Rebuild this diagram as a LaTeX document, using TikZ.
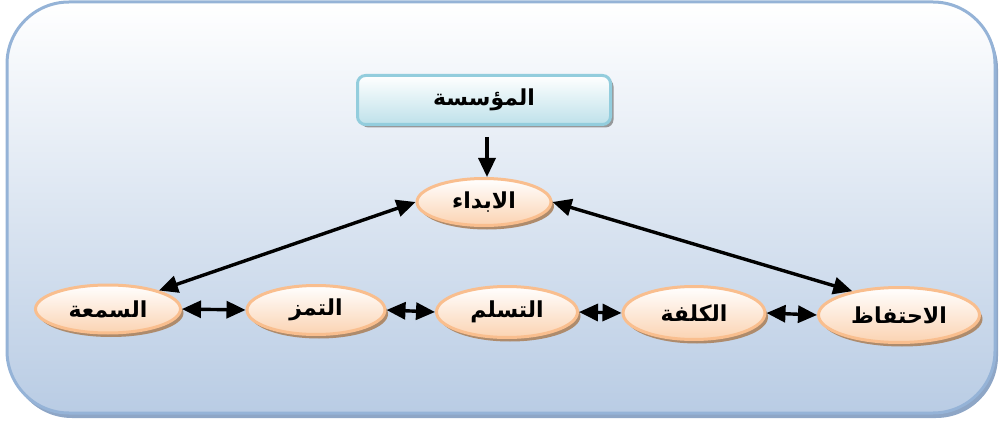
\documentclass[tikz,border=0pt]{standalone}
\usepackage{fontspec}
\newfontfamily\arabicfont[Script=Arabic]{DejaVu Sans}
\TeXXeTstate=1
\usetikzlibrary{arrows.meta,shadows,shapes.geometric}

\definecolor{frameedge}{HTML}{95B3D7}
\definecolor{framebottom}{HTML}{B9CCE4}
\definecolor{frameshadow}{HTML}{8EA6C6}
\definecolor{boxedge}{HTML}{93CDDD}
\definecolor{boxbottom}{HTML}{BEE1EA}
\definecolor{ovaledge}{HTML}{F9BE8E}
\definecolor{ovalbottom}{HTML}{FBD3B2}
\definecolor{ovalshadow}{HTML}{AE8B6C}

\tikzset{
  x=1pt, y=-1pt,
  label text/.style={font=\arabicfont\bfseries\fontsize{22}{26}\selectfont},
  topbox/.style={draw=boxedge, line width=3pt, rounded corners=8pt,
    top color=white, bottom color=boxbottom,
    minimum width=253pt, minimum height=49pt, inner sep=0pt, label text,
    drop shadow={shadow xshift=3pt, shadow yshift=-3pt, fill=black!55, opacity=0.7}},
  oval/.style={ellipse, draw=ovaledge, line width=3pt,
    top color=white, bottom color=ovalbottom, inner sep=0pt, label text,
    drop shadow={shadow xshift=3pt, shadow yshift=-4pt, fill=ovalshadow, opacity=1}},
  link/.style={line width=3.4pt, {Triangle[length=19pt,width=17pt]}-{Triangle[length=19pt,width=17pt]}},
  onelink/.style={line width=3.4pt, -{Triangle[length=19pt,width=17pt]}},
}

\begin{document}
\begin{tikzpicture}
\useasboundingbox (0,0) rectangle (1002,425);

% background panel
\path[draw=frameedge, line width=3pt, rounded corners=62pt,
      top color=white, bottom color=framebottom,
      drop shadow={shadow xshift=3pt, shadow yshift=-5pt, fill=frameshadow, opacity=1}]
  (7,2) rectangle (995,413);

% organisation box
\node[topbox] (org) at (484,100) {\beginR المؤسسة\endR};

% performance
\node[oval, minimum width=134pt, minimum height=47pt] (perf) at (484,202) {\beginR الابداء\endR};

% bottom row
\node[oval, minimum width=145pt, minimum height=48pt] (rep) at (108,309) {\beginR السمعة\endR};
\node[oval, minimum width=138pt, minimum height=49pt] (exc) at (316,310) {\beginR التمز\endR};
\node[oval, minimum width=141pt, minimum height=51pt] (del) at (507,312) {\beginR التسلم\endR};
\node[oval, minimum width=142pt, minimum height=53pt] (cost) at (694,313) {\beginR الكلفة\endR};
\node[oval, minimum width=161pt, minimum height=55pt] (ret) at (899,315) {\beginR الاحتفاظ\endR};

% connectors
\coordinate (orgout) at (487,137);
\draw[onelink] (orgout) -- (orgout |- perf.north);
\draw[link] (rep.20) -- (perf.west);
\draw[link] (perf.east) -- (ret.153);
\draw[link] (rep.east) -- (exc.west);
\draw[link] (exc.east) -- (del.west);
\draw[link] (del.east) -- (cost.west);
\draw[link] (cost.east) -- (ret.west);
\end{tikzpicture}
\end{document}
